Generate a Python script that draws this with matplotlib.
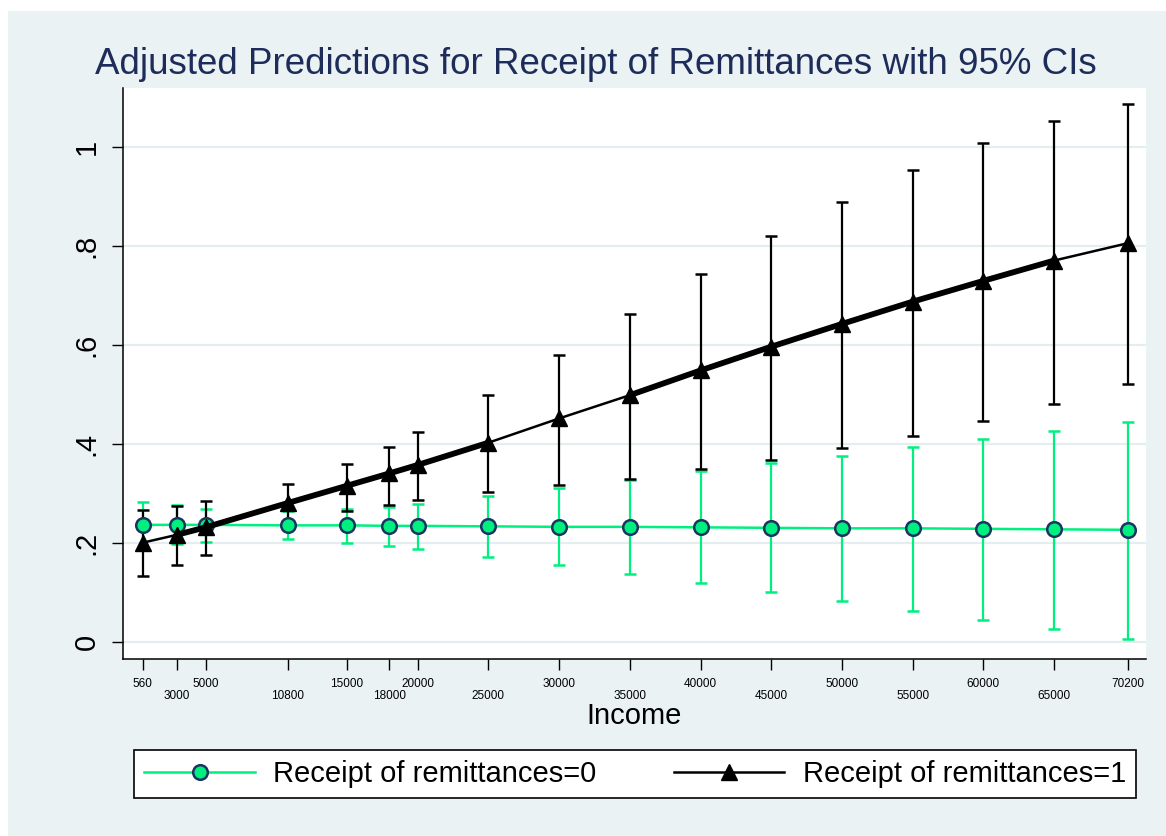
import numpy as np
import matplotlib.pyplot as plt
from matplotlib.lines import Line2D
from matplotlib.patches import Rectangle

plt.rcParams['font.family'] = ['Liberation Sans', 'DejaVu Sans']

# ===== DATOS =====
income = [560, 3000, 5000, 10800, 15000, 18000, 20000, 25000, 30000,
          35000, 40000, 45000, 50000, 55000, 60000, 65000, 70200]

# remesas = 0
pred0 = [0.236, 0.236, 0.236, 0.235, 0.235, 0.234, 0.234, 0.233, 0.232,
         0.232, 0.231, 0.230, 0.229, 0.229, 0.228, 0.227, 0.226]
lo0 = [0.191, 0.197, 0.202, 0.207, 0.200, 0.194, 0.187, 0.172, 0.155,
       0.136, 0.118, 0.100, 0.082, 0.062, 0.043, 0.025, 0.006]
hi0 = [0.282, 0.276, 0.269, 0.263, 0.268, 0.273, 0.278, 0.294, 0.310,
       0.327, 0.345, 0.360, 0.376, 0.393, 0.409, 0.426, 0.443]

# remesas = 1
pred1 = [0.200, 0.216, 0.231, 0.280, 0.315, 0.340, 0.357, 0.402, 0.451,
         0.498, 0.548, 0.596, 0.642, 0.687, 0.729, 0.770, 0.805]
lo1 = [0.133, 0.155, 0.175, 0.243, 0.263, 0.276, 0.286, 0.303, 0.317,
       0.329, 0.348, 0.367, 0.391, 0.415, 0.445, 0.480, 0.520]
hi1 = [0.266, 0.275, 0.285, 0.318, 0.358, 0.394, 0.423, 0.498, 0.579,
       0.662, 0.742, 0.820, 0.889, 0.953, 1.007, 1.051, 1.086]

# tramos donde la linea negra se ve doble (gruesa)
tramos_gruesos = [(3000, 25000), (35000, 65000)]

yticks = [0, 0.2, 0.4, 0.6, 0.8, 1]
ytick_labels = ["0", ".2", ".4", ".6", ".8", "1"]
xtick_labels = [str(v) for v in income]

titulo = "Adjusted Predictions for Receipt of Remittances with 95% CIs"
etiquetas = ["Receipt of remittances=0", "Receipt of remittances=1"]

# ===== COLORES =====
FONDO = "#EAF2F3"
REJILLA = "#E4EDEF"
VERDE = "#00F07F"
NAVY = "#1C3462"
TITULO = "#1E2C5A"

# ===== FIGURA =====
W, H = 1166, 836
fig = plt.figure(figsize=(W / 100, H / 100), dpi=100, facecolor="white")
fig.patches.append(Rectangle((8 / W, 0), 1 - 8 / W, 1 - 11 / H,
                             transform=fig.transFigure, facecolor=FONDO,
                             edgecolor="none", zorder=-10))

ax = fig.add_axes([123 / W, 1 - 659 / H, (1146 - 123) / W, (659 - 88) / H])
ax.set_facecolor("white")

x = np.array(income)

# intervalos de confianza
ax.vlines(x, lo0, hi0, color=VERDE, lw=1.6, zorder=2)
ax.plot(x, lo0, ls="none", marker="_", ms=9, mew=1.8, color=VERDE, zorder=2)
ax.plot(x, hi0, ls="none", marker="_", ms=9, mew=1.8, color=VERDE, zorder=2)

ax.vlines(x, lo1, hi1, color="black", lw=1.6, zorder=3)
ax.plot(x, lo1, ls="none", marker="_", ms=9, mew=1.8, color="black", zorder=3)
ax.plot(x, hi1, ls="none", marker="_", ms=9, mew=1.8, color="black", zorder=3)

# lineas de prediccion
ax.plot(x, pred0, color=VERDE, lw=1.8, marker="o", ms=10.5,
        mfc=VERDE, mec=NAVY, mew=1.8, zorder=4)

p1 = np.array(pred1)
for a, b in tramos_gruesos:
    m = (x >= a) & (x <= b)
    ax.plot(x[m], p1[m], color="black", lw=4.2, solid_capstyle="butt", zorder=5)
ax.plot(x, pred1, color="black", lw=1.8, marker="^", ms=11,
        mfc="black", mec="black", zorder=6)

# ejes
ax.set_xlim(-833, 71494)
ax.set_ylim(-0.035, 1.1186)

ax.set_yticks(yticks)
ax.set_yticklabels(ytick_labels)
ax.yaxis.grid(True, color=REJILLA, lw=1.6)
ax.set_axisbelow(True)

ax.set_xticks(income)
ax.set_xticklabels(xtick_labels)

ax.tick_params(axis="x", length=8, width=1, labelsize=8.5, pad=5.5)
ax.tick_params(axis="y", length=8, width=1, labelsize=21, pad=8,
               labelrotation=90)
for lab in ax.get_yticklabels():
    lab.set_verticalalignment("center")

# etiquetas alternadas: una fila arriba, otra abajo
for i, tick in enumerate(ax.xaxis.get_major_ticks()):
    if i % 2 == 1:
        tick.set_pad(14)

for s in ["top", "right"]:
    ax.spines[s].set_visible(False)
for s in ["left", "bottom"]:
    ax.spines[s].set_linewidth(1.1)

# textos
fig.text(596 / W, 1 - 74 / H, titulo, ha="center", va="baseline",
         fontsize=26.5, color=TITULO)
fig.text(634 / W, 1 - 724 / H, "Income", ha="center", va="baseline",
         fontsize=21, color="black")

# leyenda
h0 = Line2D([], [], color=VERDE, lw=1.8, marker="o", ms=10.5,
            mfc=VERDE, mec=NAVY, mew=1.8)
h1 = Line2D([], [], color="black", lw=1.8, marker="^", ms=11)
leg = fig.legend([h0, h1], etiquetas, ncol=2, loc="center",
                 bbox_to_anchor=(134 / W, 1 - 801 / H, (1136 - 134) / W, 54 / H),
                 mode="expand", fontsize=21, frameon=True, fancybox=False,
                 edgecolor="black", framealpha=1, handlelength=3.8,
                 handletextpad=0.62, borderaxespad=0, borderpad=0.35,
                 numpoints=1)
leg.get_frame().set_linewidth(1.2)
leg.get_frame().set_facecolor("white")

fig.savefig("out.png", dpi=100, facecolor="white")
